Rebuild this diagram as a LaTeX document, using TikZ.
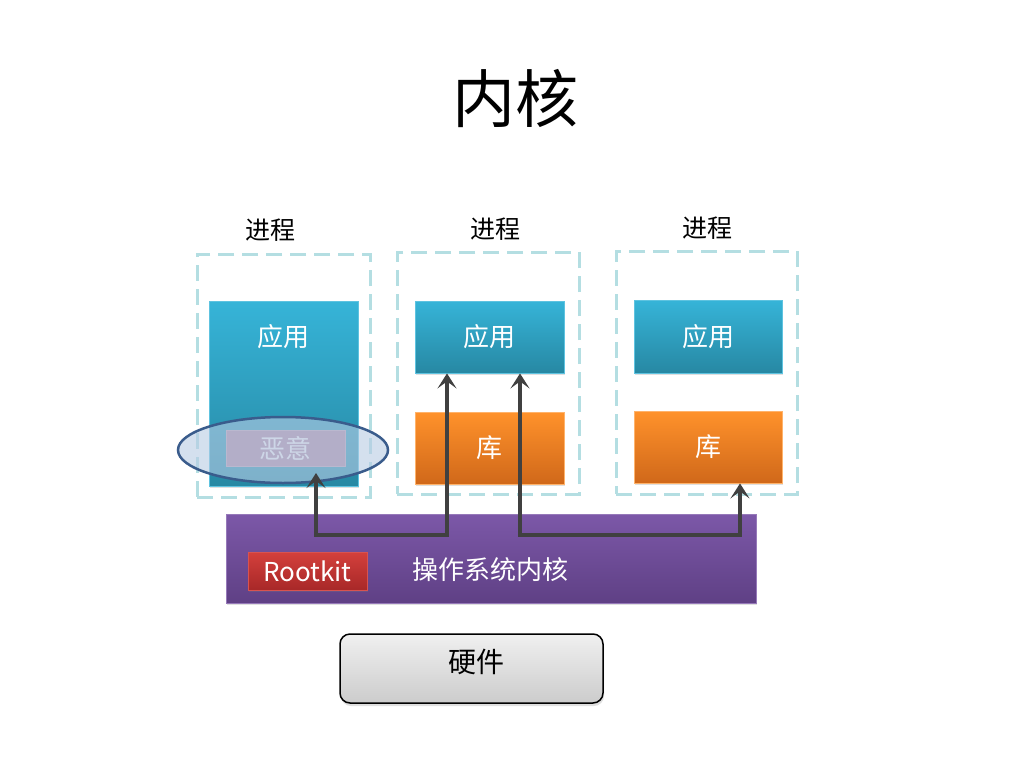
\documentclass[tikz,border=0pt]{standalone}
\usepackage{fontspec}
\setmainfont{Noto Sans CJK SC}
\usetikzlibrary{shapes.geometric,arrows.meta,shadows}
\definecolor{appTop}{RGB}{54,180,216}
\definecolor{appBot}{RGB}{39,136,163}
\definecolor{libTop}{RGB}{255,146,43}
\definecolor{libBot}{RGB}{208,104,26}
\definecolor{kernTop}{RGB}{124,88,168}
\definecolor{kernBot}{RGB}{95,64,133}
\definecolor{rkTop}{RGB}{212,64,60}
\definecolor{rkBot}{RGB}{168,40,40}
\definecolor{procLine}{RGB}{180,222,226}
\definecolor{evilFill}{RGB}{172,130,158}
\definecolor{ellFill}{RGB}{184,204,228}
\definecolor{ellLine}{RGB}{58,92,140}
\definecolor{linkCol}{RGB}{64,64,64}
\tikzset{
  proc/.style={shape=rectangle,draw=procLine,line width=3pt,dash pattern=on 16pt off 8pt},
  app/.style={shape=rectangle,top color=appTop,bottom color=appBot,draw=appTop!80!white,line width=0.8pt,
    drop shadow={opacity=0.25,shadow xshift=1pt,shadow yshift=-2pt}},
  lib/.style={shape=rectangle,top color=libTop,bottom color=libBot,draw=libTop!70!white,line width=0.8pt,
    drop shadow={opacity=0.25,shadow xshift=1pt,shadow yshift=-2pt}},
  boxtext/.style={text=white,font=\fontsize{26}{30}\selectfont},
  plabel/.style={font=\fontsize{25}{30}\selectfont},
  link/.style={draw=linkCol,line width=3.5pt,{Stealth[length=15pt,width=19pt,inset=7pt]}-{Stealth[length=15pt,width=19pt,inset=7pt]}}
}
\begin{document}
\begin{tikzpicture}[x=1pt,y=-1pt]
  \useasboundingbox[fill=white] (0,0) rectangle (1024,768);

  \node (title) at (515,98) {\fontsize{63}{70}\selectfont 内核};

  % processes
  \node[plabel] (p1) at (270,230) {进程};
  \node[plabel] (p2) at (495,229) {进程};
  \node[plabel] (p3) at (707,228) {进程};
  \node[proc,minimum width=173pt,minimum height=243pt] (proc1) at (283.5,375.5) {};
  \node[proc,minimum width=182pt,minimum height=242pt] (proc2) at (488,373) {};
  \node[proc,minimum width=181pt,minimum height=243pt] (proc3) at (706.5,372.5) {};

  \node[app,minimum width=149pt,minimum height=185pt] (app1) at (283.5,393.5) {};
  \node[boxtext] (app1t) at (283,337) {应用};
  \node[app,minimum width=149pt,minimum height=72pt,boxtext] (app2) at (489.5,337) {应用};
  \node[lib,minimum width=149pt,minimum height=72pt,boxtext] (lib2) at (489.5,448) {库};
  \node[app,minimum width=148pt,minimum height=73pt,boxtext] (app3) at (708,336.5) {应用};
  \node[lib,minimum width=148pt,minimum height=72pt,boxtext] (lib3) at (708,447) {库};

  \node[shape=rectangle,fill=evilFill,draw=evilFill!80!white,minimum width=119pt,minimum height=36pt,
    text=white!80!evilFill,font=\fontsize{26}{30}\selectfont] (evil) at (285.5,448) {恶意};
  \node[shape=ellipse,fill=ellFill,fill opacity=0.6,draw=ellLine,line width=2.5pt,
    minimum width=210pt,minimum height=66pt] (ell) at (283,450) {};

  % kernel
  \node[shape=rectangle,top color=kernTop,bottom color=kernBot,draw=kernTop!80!white,
    minimum width=530pt,minimum height=89pt,
    drop shadow={opacity=0.25,shadow xshift=1pt,shadow yshift=-2pt}] (kern) at (491,558.5) {};
  \node[shape=rectangle,top color=rkTop,bottom color=rkBot,draw=rkTop!90!white,line width=0.8pt,
    minimum width=119pt,minimum height=38pt,boxtext,
    drop shadow={opacity=0.25,shadow xshift=1pt,shadow yshift=-2pt}] (rk) at (307.5,571) {Rootkit};
  \node[boxtext] (kernt) at (490,570) {操作系统内核};

  % hardware
  \node[shape=rectangle,rounded corners=10pt,top color=gray!12,bottom color=gray!40,draw=black,line width=1.5pt,
    minimum width=263pt,minimum height=69pt,
    drop shadow={opacity=0.25,shadow xshift=1pt,shadow yshift=-3pt}] (hw) at (471.5,668.5) {};
  \node[font=\fontsize{28}{32}\selectfont] (hwt) at (476,662) {硬件};

  % hooks
  \coordinate (m1) at (316,473);
  \coordinate (k1) at (316,535);
  \coordinate (k2) at (447,535);
  \coordinate (k3) at (520,535);
  \coordinate (k4) at (740,535);
  \draw[link] (m1) -- (k1) -- (k2) -- (k2 |- app2.south);
  \draw[link] (k3 |- app2.south) -- (k3) -- (k4) -- (k4 |- lib3.south);
\end{tikzpicture}
\end{document}
